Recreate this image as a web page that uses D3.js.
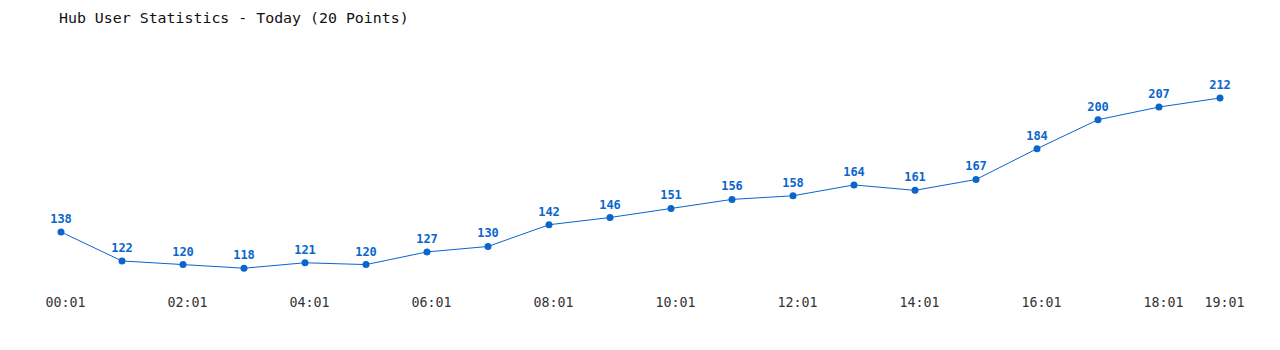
<!DOCTYPE html>
<html><head><meta charset="utf-8">
<script src="https://cdn.jsdelivr.net/npm/d3@7"></script>
<style>body{margin:0;background:#fff;}svg{display:block;}</style>
</head><body>
<svg id="c" width="1280" height="350"></svg>
<script>
const times = ["00:01","01:01","02:01","03:01","04:01","05:01","06:01","07:01","08:01","09:01","10:01","11:01","12:01","13:01","14:01","15:01","16:01","17:01","18:01","19:01"];
const users = [138,122,120,118,121,120,127,130,142,146,151,156,158,164,161,167,184,200,207,212];
const tickLabels = ["00:01","02:01","04:01","06:01","08:01","10:01","12:01","14:01","16:01","18:01","19:01"];
const title = "Hub User Statistics - Today (20 Points)";

const svg = d3.select("#c");
const color = "#0a66cc";
const font = "'DejaVu Sans Mono', monospace";

const x = d3.scalePoint().domain(times).range([61, 1220]);
const y = d3.scaleLinear().domain([100, 250]).range([300.8, 29.2]);

svg.append("text").attr("x", 59).attr("y", 23).text(title)
  .attr("font-family", font).attr("font-size", 14.9).attr("fill", "#111");

const axis = d3.axisBottom(x).tickValues(tickLabels).tickSize(0).tickPadding(0);
const g = svg.append("g").attr("transform", "translate(4,298)").call(axis);
g.select(".domain").remove();
g.selectAll("text").attr("font-family", font).attr("font-size", 13.3).attr("fill", "#333").attr("dy", "0.71em");

svg.append("path").datum(users)
  .attr("d", d3.line().x((d,i)=>x(times[i])).y(d=>y(d)))
  .attr("fill","none").attr("stroke",color).attr("stroke-width",1);

svg.selectAll("circle.p").data(users).join("circle")
  .attr("cx",(d,i)=>x(times[i])).attr("cy",d=>y(d)).attr("r",3.5).attr("fill",color);

svg.selectAll("text.v").data(users).join("text").attr("class","v")
  .attr("x",(d,i)=>x(times[i])).attr("y",d=>y(d)-9)
  .attr("text-anchor","middle").attr("font-family",font).attr("font-size",12)
  .attr("font-weight","bold").attr("fill",color).text(d=>d);
</script>
</body></html>
